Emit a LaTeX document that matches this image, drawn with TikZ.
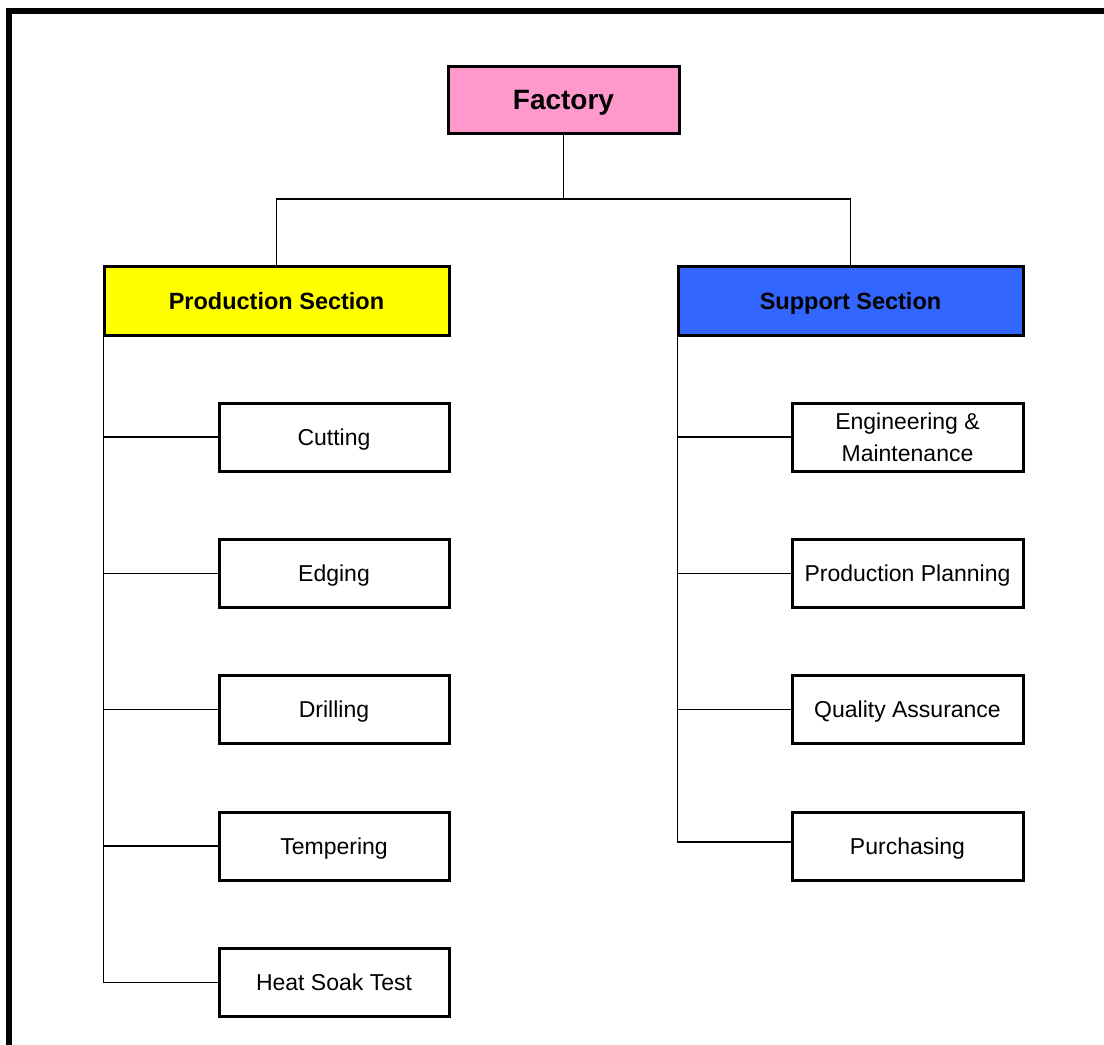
\documentclass[tikz,border=0pt]{standalone}
\usepackage{fontspec}
\setmainfont{Liberation Sans}
\definecolor{facpink}{HTML}{FF99CC}
\definecolor{secyellow}{HTML}{FFFF00}
\definecolor{secblue}{HTML}{3366FF}
\begin{document}
\begin{tikzpicture}[x=1pt,y=-1pt,
  box/.style={draw=black, line width=3pt, rectangle, inner sep=0pt, align=center, font=\fontsize{23}{32}\selectfont},
  onebox/.style={text depth=0pt},
  topbox/.style={box, onebox, fill=facpink, minimum width=231pt, minimum height=67pt, font=\bfseries\fontsize{28}{32}\selectfont},
  secbox/.style={box, onebox, minimum width=345pt, minimum height=69pt, font=\bfseries\fontsize{23.5}{30}\selectfont},
  leafbox/.style={box, fill=white, minimum width=230pt, minimum height=68pt},
  conn/.style={draw=black, line width=1.5pt},
  frame/.style={draw=black, line width=6pt}]
\useasboundingbox (0,0) rectangle (1104,1045);
\coordinate (fr1) at (9,1045);
\coordinate (fr2) at (9,11);
\coordinate (fr3) at (1104,11);
\draw[frame] (fr1) -- (fr2) -- (fr3);

\node[topbox] (fac) at (563.5,99.5) {Factory};
\node[secbox, fill=secyellow] (prod) at (276.5,300.5) {Production Section};
\node[secbox, fill=secblue] (sup) at (850.5,300.5) {Support Section};

\node[leafbox, onebox] (cut) at (334,437) {Cutting};
\node[leafbox, onebox] (edg) at (334,573.5) {Edging};
\node[leafbox, onebox] (dri) at (334,709.5) {Drilling};
\node[leafbox, onebox] (tem) at (334,846) {Tempering};
\node[leafbox, onebox] (hst) at (334,982.5) {Heat Soak Test};

\node[leafbox, minimum width=231pt] (eng) at (907.5,437) {Engineering \&\\Maintenance};
\node[leafbox, onebox, minimum width=231pt] (ppl) at (907.5,573.5) {Production Planning};
\node[leafbox, onebox, minimum width=231pt] (qa) at (907.5,709.5) {Quality Assurance};
\node[leafbox, onebox, minimum width=231pt] (pur) at (907.5,846) {Purchasing};

\coordinate (bus) at (563.5,199);
\draw[conn] (fac.south) -- (bus);
\draw[conn] (bus) -| (prod.north);
\draw[conn] (bus) -| (sup.north);

\coordinate (ls) at ([xshift=1pt]prod.south west);
\draw[conn] (ls) |- (hst.west);
\draw[conn] (ls) |- (cut.west);
\draw[conn] (ls) |- (edg.west);
\draw[conn] (ls) |- (dri.west);
\draw[conn] (ls) |- (tem.west);

\coordinate (rs) at ([xshift=1pt]sup.south west);
\coordinate (purin) at ([yshift=4pt]pur.west);
\draw[conn] (rs) |- (purin);
\draw[conn] (rs) |- (eng.west);
\draw[conn] (rs) |- (ppl.west);
\draw[conn] (rs) |- (qa.west);
\end{tikzpicture}
\end{document}
